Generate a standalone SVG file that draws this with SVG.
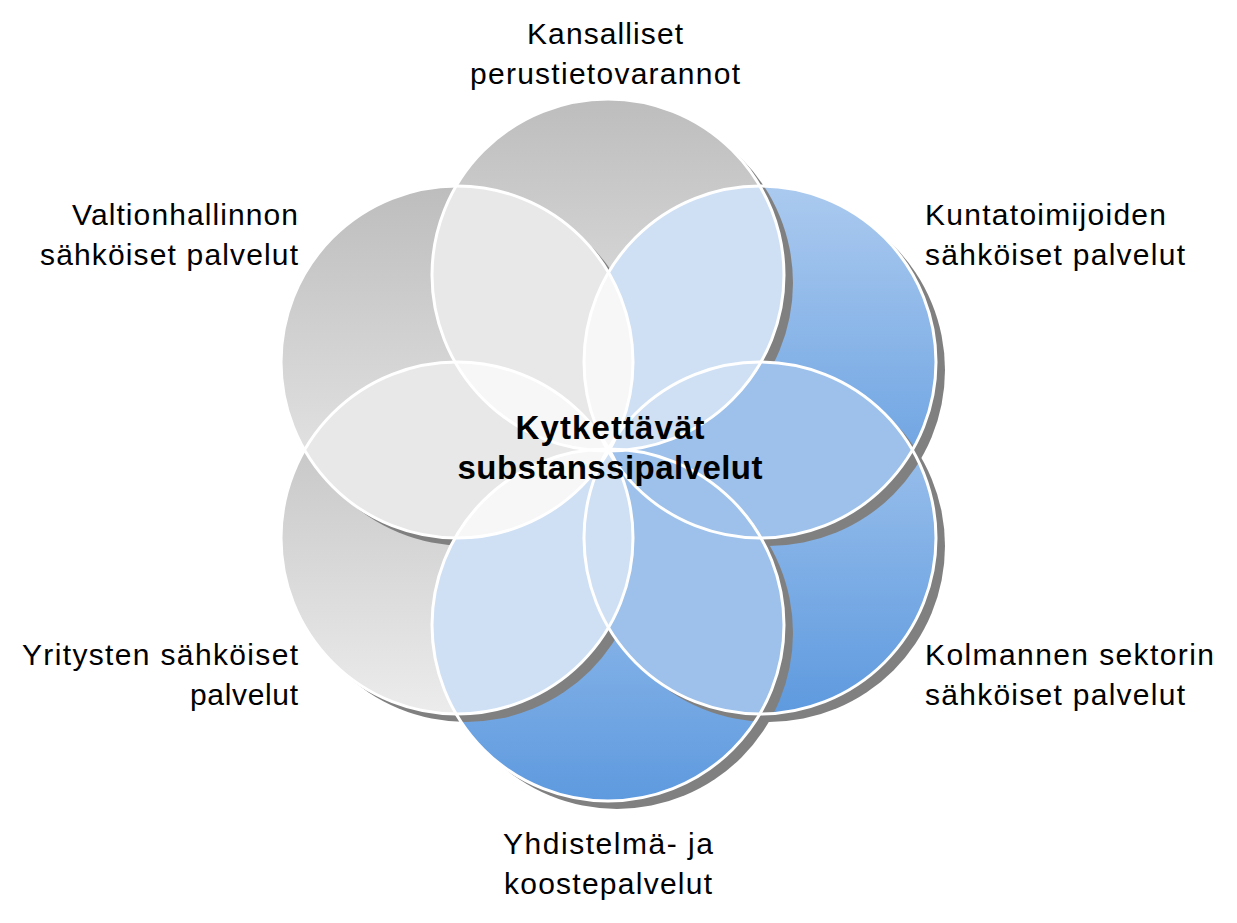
<svg xmlns="http://www.w3.org/2000/svg" width="1237" height="923" viewBox="0 0 1237 923">
<style>
.lbl{font-family:"Liberation Sans",Arial,sans-serif;font-size:30px;fill:#000}
.ctr{font-family:"Liberation Sans",Arial,sans-serif;font-size:33px;font-weight:bold;fill:#000}
.gray{fill:url(#gGray)}
.blue{fill:url(#gBlue)}
.sh{fill:#808080}
.ol{fill:none;stroke:#fff;stroke-width:3}
.gg{fill:#e8e8e8}
.gb{fill:#cfe0f5}
.bb{fill:#9dc1ea}
.tw{fill:#f7f7f7}
</style>
<defs>
<linearGradient id="gGray" x1="0" y1="0" x2="0" y2="1">
<stop offset="0" stop-color="#bdbdbd"/>
<stop offset="1" stop-color="#ececec"/>
</linearGradient>
<linearGradient id="gBlue" x1="0" y1="0" x2="0" y2="1">
<stop offset="0" stop-color="#abcaef"/>
<stop offset="1" stop-color="#5e9adf"/>
</linearGradient>
<clipPath id="cT"><circle cx="608" cy="275" r="176"/></clipPath>
<clipPath id="cUR"><circle cx="760" cy="362" r="176"/></clipPath>
<clipPath id="cLR"><circle cx="760" cy="538" r="176"/></clipPath>
<clipPath id="cB"><circle cx="608" cy="625" r="176"/></clipPath>
<clipPath id="cLL"><circle cx="457" cy="538" r="176"/></clipPath>
<clipPath id="cUL"><circle cx="457" cy="362" r="176"/></clipPath>
<mask id="mT" maskUnits="userSpaceOnUse" x="0" y="0" width="1237" height="923"><rect width="1237" height="923" fill="#fff"/><circle cx="608" cy="275" r="176" fill="#000"/></mask>
<mask id="mUR" maskUnits="userSpaceOnUse" x="0" y="0" width="1237" height="923"><rect width="1237" height="923" fill="#fff"/><circle cx="760" cy="362" r="176" fill="#000"/></mask>
<mask id="mLR" maskUnits="userSpaceOnUse" x="0" y="0" width="1237" height="923"><rect width="1237" height="923" fill="#fff"/><circle cx="760" cy="538" r="176" fill="#000"/></mask>
<mask id="mB" maskUnits="userSpaceOnUse" x="0" y="0" width="1237" height="923"><rect width="1237" height="923" fill="#fff"/><circle cx="608" cy="625" r="176" fill="#000"/></mask>
<mask id="mLL" maskUnits="userSpaceOnUse" x="0" y="0" width="1237" height="923"><rect width="1237" height="923" fill="#fff"/><circle cx="457" cy="538" r="176" fill="#000"/></mask>
<mask id="mUL" maskUnits="userSpaceOnUse" x="0" y="0" width="1237" height="923"><rect width="1237" height="923" fill="#fff"/><circle cx="457" cy="362" r="176" fill="#000"/></mask>
</defs>
<rect width="1237" height="923" fill="#fff"/>

<g id="node-kansalliset">
<circle class="gray" cx="608" cy="275" r="176"/>
<text class="lbl" x="605" y="44" text-anchor="middle" textLength="156">Kansalliset</text>
<text class="lbl" x="605" y="84" text-anchor="middle" textLength="270" lengthAdjust="spacing">perustietovarannot</text>
</g>
<g id="node-kuntatoimijoiden">
<circle class="blue" cx="760" cy="362" r="176"/>
<text class="lbl" x="925" y="225" textLength="241" lengthAdjust="spacing">Kuntatoimijoiden</text>
<text class="lbl" x="925" y="265" textLength="260" lengthAdjust="spacing">sähköiset palvelut</text>
</g>
<g id="node-kolmannen">
<circle class="blue" cx="760" cy="538" r="176"/>
<text class="lbl" x="925" y="665" textLength="289" lengthAdjust="spacing">Kolmannen sektorin</text>
<text class="lbl" x="925" y="705" textLength="260" lengthAdjust="spacing">sähköiset palvelut</text>
</g>
<g id="node-yhdistelma">
<circle class="blue" cx="608" cy="625" r="176"/>
<text class="lbl" x="608" y="854" text-anchor="middle" textLength="210" lengthAdjust="spacing">Yhdistelmä- ja</text>
<text class="lbl" x="608" y="894" text-anchor="middle" textLength="208" lengthAdjust="spacing">koostepalvelut</text>
</g>
<g id="node-yritysten">
<circle class="gray" cx="457" cy="538" r="176"/>
<text class="lbl" x="298" y="665" text-anchor="end" textLength="276" lengthAdjust="spacing">Yritysten sähköiset</text>
<text class="lbl" x="298" y="705" text-anchor="end" textLength="108" lengthAdjust="spacing">palvelut</text>
</g>
<g id="node-valtionhallinnon">
<circle class="gray" cx="457" cy="362" r="176"/>
<text class="lbl" x="298" y="225" text-anchor="end" textLength="226" lengthAdjust="spacing">Valtionhallinnon</text>
<text class="lbl" x="298" y="265" text-anchor="end" textLength="258" lengthAdjust="spacing">sähköiset palvelut</text>
</g>

<g id="shadows">
<circle class="sh" cx="617" cy="283" r="176" mask="url(#mT)"/>
<circle class="sh" cx="769" cy="370" r="176" mask="url(#mUR)"/>
<circle class="sh" cx="769" cy="546" r="176" mask="url(#mLR)"/>
<circle class="sh" cx="617" cy="633" r="176" mask="url(#mB)"/>
<circle class="sh" cx="466" cy="546" r="176" mask="url(#mLL)"/>
<circle class="sh" cx="466" cy="370" r="176" mask="url(#mUL)"/>
</g>

<g id="overlaps">
<circle class="gg" cx="457" cy="362" r="176" clip-path="url(#cT)"/>
<circle class="gb" cx="608" cy="275" r="176" clip-path="url(#cUR)"/>
<circle class="bb" cx="760" cy="362" r="176" clip-path="url(#cLR)"/>
<circle class="bb" cx="760" cy="538" r="176" clip-path="url(#cB)"/>
<circle class="gb" cx="608" cy="625" r="176" clip-path="url(#cLL)"/>
<circle class="gg" cx="457" cy="538" r="176" clip-path="url(#cUL)"/>
<circle class="tw" cx="457" cy="362" r="176" clip-path="url(#cUR)"/>
<circle class="gb" cx="608" cy="275" r="176" clip-path="url(#cLR)"/>
<circle class="bb" cx="760" cy="362" r="176" clip-path="url(#cB)"/>
<circle class="gb" cx="760" cy="538" r="176" clip-path="url(#cLL)"/>
<circle class="tw" cx="608" cy="625" r="176" clip-path="url(#cUL)"/>
<circle class="tw" cx="457" cy="538" r="176" clip-path="url(#cT)"/>
</g>

<g id="outlines">
<circle class="ol" cx="608" cy="275" r="176"/>
<circle class="ol" cx="760" cy="362" r="176"/>
<circle class="ol" cx="760" cy="538" r="176"/>
<circle class="ol" cx="608" cy="625" r="176"/>
<circle class="ol" cx="457" cy="538" r="176"/>
<circle class="ol" cx="457" cy="362" r="176"/>
</g>

<g id="node-center">
<text class="ctr" x="610" y="439" text-anchor="middle" textLength="189" lengthAdjust="spacing">Kytkettävät</text>
<text class="ctr" x="610" y="479" text-anchor="middle" textLength="305" lengthAdjust="spacing">substanssipalvelut</text>
</g>
</svg>
